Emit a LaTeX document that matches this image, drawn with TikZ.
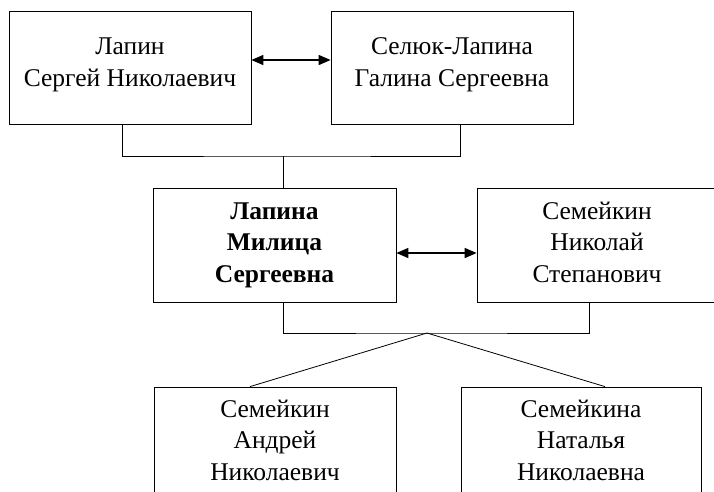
\documentclass[tikz,border=0pt]{standalone}
\usepackage{fontspec}
\setmainfont{Liberation Serif}
\usetikzlibrary{arrows.meta}
\tikzset{
  person/.style={draw=black, line width=0.8pt, rectangle, inner sep=0pt, fill=white},
  label/.style={align=center, inner sep=0pt, anchor=base, font=\fontsize{25.5}{31.5}\selectfont},
  link/.style={draw=black, line width=0.8pt},
  spouse/.style={draw=black, line width=1.6pt, {Triangle[length=12pt,width=10pt]}-{Triangle[length=12pt,width=10pt]}}
}
\begin{document}
\begin{tikzpicture}[x=1pt,y=-1pt]
\clip (0,0) rectangle (714,491);
\fill[white] (0,0) rectangle (714,491);
% boxes
\node[person, minimum width=242pt, minimum height=113pt] (b1) at (130,67.5) {};
\node[person, minimum width=242pt, minimum height=113pt] (b2) at (452,67.5) {};
\node[person, minimum width=243pt, minimum height=114pt] (b3) at (274.5,245) {};
\node[person, minimum width=240pt, minimum height=114pt] (b4) at (597,245) {};
\node[person, minimum width=242pt, minimum height=160pt] (b5) at (275,467) {};
\node[person, minimum width=240pt, minimum height=160pt] (b6) at (581,467) {};
% texts (anchor = baseline of last line)
\node[label] (t1) at (130,86) {Лапин\\Сергей Николаевич};
\node[label] (t2) at (452,86) {Селюк-Лапина\\Галина Сергеевна};
\node[label, font=\fontsize{25.5}{31.5}\selectfont\bfseries] (t3) at (274.5,282) {Лапина\\Милица\\Сергеевна};
\node[label] (t4) at (597,282) {Семейкин\\Николай\\Степанович};
\node[label] (t5) at (275,480) {Семейкин\\Андрей\\Николаевич};
\node[label] (t6) at (581,480) {Семейкина\\Наталья\\Николаевна};
% junction points
\coordinate (m1) at (283,156);
\coordinate (m2) at (427,333);
% spouse arrows
\draw[spouse] ([yshift=7.5pt]b1.east) -- ([yshift=7.5pt]b2.west);
\draw[spouse] ([yshift=-8pt]b3.east) -- ([yshift=-8pt]b4.west);
% parent connectors
\draw[link] ([xshift=-8pt]b1.south) |- (m1) -| ([xshift=8pt]b2.south);
\draw[link] (m1) -- (m1 |- b3.north);
\draw[link] ([xshift=8.5pt]b3.south) |- (m2) -| ([xshift=-8pt]b4.south);
\draw[link] (m2) -- ([xshift=-25pt]b5.north);
\draw[link] (m2) -- ([xshift=24pt]b6.north);
\end{tikzpicture}
\end{document}
